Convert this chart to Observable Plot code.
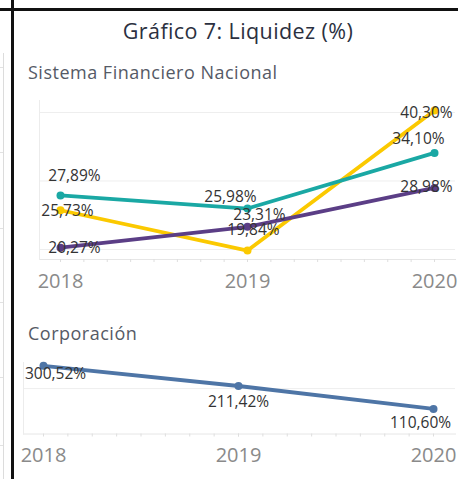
<!DOCTYPE html>
<html>
<head>
<meta charset="utf-8">
<script src="https://cdn.jsdelivr.net/npm/d3@7"></script>
<script src="https://cdn.jsdelivr.net/npm/@observablehq/plot@0.6"></script>
<style>
  html, body { margin: 0; padding: 0; background: #fff; }
  #wrap { position: relative; width: 458px; height: 479px; overflow: hidden; background: #fff; font-family: "Open Sans", "Noto Sans", sans-serif; }
  .abs { position: absolute; }
  .txt { white-space: nowrap; line-height: 1; }
</style>
</head>
<body>
<div id="wrap">
  <div class="abs" style="left:3px;top:53px;width:1px;height:426px;background:#dcdcdc"></div>
  <div class="abs" style="left:0;top:67px;width:3px;height:1px;background:#e2e2e2"></div>
  <div class="abs" style="left:0;top:152px;width:3px;height:1px;background:#e2e2e2"></div>
  <div class="abs" style="left:0;top:228px;width:3px;height:1px;background:#e2e2e2"></div>
  <div class="abs" style="left:0;top:302px;width:3px;height:1px;background:#e2e2e2"></div>
  <div class="abs" style="left:0;top:377px;width:3px;height:1px;background:#e2e2e2"></div>
  <div class="abs" style="left:0;top:445px;width:3px;height:1px;background:#e2e2e2"></div>
  <div class="abs" style="left:0;top:8px;width:458px;height:3px;background:#111"></div>
  <div class="abs" style="left:11px;top:0;width:3px;height:479px;background:#111"></div>
  <div id="title" class="abs txt" style="left:0;width:476px;text-align:center;top:20px;font-size:21.5px;letter-spacing:0.4px;color:#2b3040;">Gráfico 7: Liquidez (%)</div>
  <div id="sub1" class="abs txt" style="left:28px;top:63px;font-size:18px;letter-spacing:0.5px;color:#555a66;">Sistema Financiero Nacional</div>
  <div id="sub2" class="abs txt" style="left:28px;top:324px;font-size:18px;letter-spacing:0.5px;color:#555a66;">Corporación</div>
  <div id="chart1" class="abs" style="left:0;top:90px;"></div>
  <div id="chart2" class="abs" style="left:0;top:350px;"></div>
</div>
<script>
// ---- data ----
const years = [2018, 2019, 2020];
const seriesNames = ["Serie A", "Serie B", "Serie C"];
const serieAValues = [27.89, 25.98, 34.10]; // teal
const serieBValues = [25.73, 19.84, 40.30]; // yellow
const serieCValues = [20.27, 23.31, 28.98]; // purple
const corporacionValues = [300.52, 211.42, 110.60];
const yearTicks = [2018, 2019, 2020];
const gridTop = [20, 30, 40];
const gridBottom = [200];

// ---- styles ----
const colors = {"Serie A": "#1aa8a4", "Serie B": "#fbc900", "Serie C": "#5b3e86"};
const corpColor = "#4e75a6";
const fontFamily = '"Open Sans", "Noto Sans", sans-serif';
const fmt = v => v.toFixed(2).replace(".", ",") + "%";
// label offsets (px) relative to each point, by series and year index
const labelOffsets = {
  "Serie A": [[14, -19], [-17, -12], [-16, -14]],
  "Serie B": [[7, 1], [6, -21], [-8, 3]],
  "Serie C": [[14, 0], [12, -12], [-8, -1]],
  "Corporación": [[12, 8], [0, 16], [-13, 14]]
};

const minorTicks = [];
for (let y = 2018; y < 2020; y++) for (let k = 0; k <= 8; k++) minorTicks.push(y + k / 8);

const sfn = [];
[serieAValues, serieBValues, serieCValues].forEach((vals, s) => {
  vals.forEach((v, i) => sfn.push({series: seriesNames[s], year: years[i], value: v, i}));
});
const corp = corporacionValues.map((v, i) => ({series: "Corporación", year: years[i], value: v, i}));

function labelMarks(data) {
  return data.map(d => Plot.text([d], {
    x: "year", y: "value", text: d => fmt(d.value),
    dx: labelOffsets[d.series][d.i][0], dy: labelOffsets[d.series][d.i][1],
    fontSize: 15.5, fill: "#333", textAnchor: "middle"
  }));
}

function axisMarks(pad) {
  return [
    Plot.axisX(minorTicks, {tickSize: 3, tickFormat: () => "", stroke: "#dedede"}),
    Plot.axisX(yearTicks, {tickSize: 0, tickPadding: pad, fontSize: 20, fill: "#8a8a8a", tickFormat: d => String(d)})
  ];
}

const drawOrder = ["Serie B", "Serie A", "Serie C"];

const chart1 = Plot.plot({
  width: 458, height: 205,
  marginLeft: 39, marginRight: 3, marginTop: 10, marginBottom: 36,
  style: {fontFamily, background: "transparent", overflow: "visible"},
  x: {domain: [2018, 2020], insetLeft: 21, insetRight: 21, label: null},
  y: {domain: [18.54, 41.75], axis: null},
  marks: [
    Plot.ruleY(gridTop, {stroke: "#eeeeee"}),
    Plot.frame({anchor: "bottom", stroke: "#e6e6e6"}),
    Plot.frame({anchor: "left", stroke: "#ececec"}),
    ...axisMarks(14),
    ...drawOrder.map(s => Plot.line(sfn.filter(d => d.series === s), {x: "year", y: "value", stroke: colors[s], strokeWidth: 3.8})),
    ...drawOrder.map(s => Plot.dot(sfn.filter(d => d.series === s), {x: "year", y: "value", fill: colors[s], r: 4})),
    ...labelMarks(sfn)
  ]
});
document.getElementById("chart1").appendChild(chart1);

const chart2 = Plot.plot({
  width: 458, height: 129,
  marginLeft: 23, marginRight: 3, marginTop: 12, marginBottom: 45.5,
  style: {fontFamily, background: "transparent", overflow: "visible"},
  x: {domain: [2018, 2020], insetLeft: 20, insetRight: 22, label: null},
  y: {domain: [0, 315], axis: null},
  marks: [
    Plot.ruleY(gridBottom, {stroke: "#eeeeee"}),
    Plot.frame({anchor: "bottom", stroke: "#e6e6e6"}),
    Plot.frame({anchor: "left", stroke: "#ececec"}),
    ...axisMarks(14),
    Plot.line(corp, {x: "year", y: "value", stroke: corpColor, strokeWidth: 3.8}),
    Plot.dot(corp, {x: "year", y: "value", fill: corpColor, r: 4}),
    ...labelMarks(corp)
  ]
});
document.getElementById("chart2").appendChild(chart2);
</script>
</body>
</html>
